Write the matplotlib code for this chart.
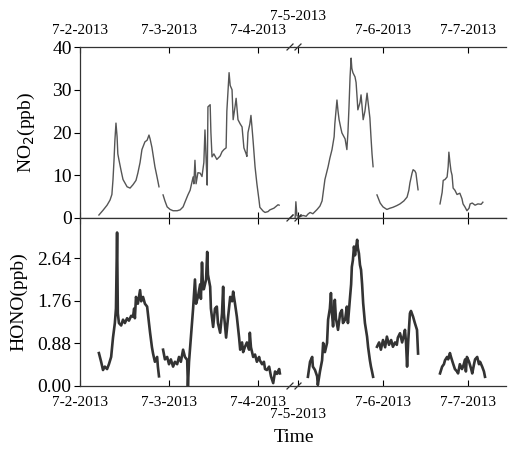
import numpy as np
import matplotlib
matplotlib.use('Agg')
import matplotlib.pyplot as plt

plt.rcParams['font.family'] = ['Liberation Serif', 'DejaVu Serif']

nan = np.nan

# hours since 7-2-2013 00:00, first block (7-2 to 7-4 morning)
no2_t1 = [5.1, 6.2, 7.3, 8.1, 8.6, 8.9, 9.2, 9.4, 9.7, 10.0, 10.2, 10.5, 11.1, 11.6, 12.7, 13.5,
          14.3, 15.1, 15.6, 16.2, 16.7, 17.5, 18.1, 18.6, 18.9, 19.4, 20.2, 20.8, 21.3, 21.8,
          22.4, 22.9, 23.5, 24.3, 25.1, 26.2, 27.0, 27.8, 28.3, 29.1, 29.7, 30.5, 30.7, 31.0,
          31.3, 31.8, 32.4, 32.9, 33.4, 33.7, 34.0, 34.3, 34.5, 35.1, 35.3, 35.6, 36.1, 36.9,
          37.8, 38.3, 38.8, 39.4, 39.6, 40.2, 40.5, 41.0, 41.3, 41.8, 42.1, 42.6, 43.2, 43.7,
          44.2, 44.8, 45.0, 45.3, 45.8, 46.1, 46.4, 46.7, 47.2, 47.7, 48.3, 48.5, 49.4, 49.9,
          50.7, 51.2, 52.3, 53.4, 53.7]
no2_v1 = [0.7, 1.8, 3.0, 4.2, 5.5, 9.0, 14.0, 18.0, 22.2, 19.0, 15.0, 13.6, 11.0, 9.0, 7.3, 7.0,
          7.8, 8.8, 10.5, 13.0, 16.0, 17.8, 18.2, 19.4, 18.5, 16.5, 12.0, 9.5, 7.3, nan,
          5.4, 4.0, 2.6, 2.0, 1.7, 1.7, 1.9, 2.6, 3.7, 5.4, 6.5, 9.6, 8.0, 13.5,
          8.0, 10.6, 10.5, 9.7, 13.0, 20.6, 14.0, 7.7, 26.0, 26.5, 20.0, 14.3, 15.0, 13.7,
          14.5, 15.5, 16.0, 16.4, 25.0, 34.0, 31.0, 30.0, 23.0, 26.0, 28.0, 23.0, 22.0, 21.3,
          16.4, 15.0, 14.4, 20.0, 22.0, 24.0, 21.0, 17.8, 12.0, 8.0, 4.0, 2.5, 1.6, 1.3,
          1.5, 1.9, 2.3, 3.1, 3.0]

# second block (7-5 to 7-7)
no2_t2 = [71.2, 71.4, 71.7, 72.6, 73.4, 74.3, 74.8, 75.4, 76.2, 77.4, 78.2, 78.8, 79.6, 80.5,
          81.0, 81.6, 82.2, 82.4, 83.0, 83.3, 83.6, 84.1, 84.4, 85.3, 85.8, 86.1, 86.4, 86.7,
          87.0, 87.2, 87.5, 88.1, 88.4, 88.7, 88.9, 89.5, 89.8, 90.1, 90.4, 90.9, 91.5, 91.8,
          92.3, 92.6, 92.9, 93.2, 94.0, 94.3, 95.2, 96.0, 97.1, 98.0, 98.8, 99.9, 100.8, 101.9,
          102.8, 103.3, 103.6, 104.2, 104.5, 105.0, 105.3, 105.6, 105.9, 108.0, 112.1, 112.7,
          113.0, 113.5, 114.1, 114.4, 114.6, 114.9, 115.2, 115.5, 115.8, 116.3, 116.9, 117.7,
          118.3, 118.6, 119.2, 119.7, 120.3, 120.6, 121.2, 122.0, 122.8, 123.7, 124.2]
no2_v2 = [0.2, 3.8, 0.5, 0.3, 0.6, 0.4, 0.9, 1.3, 1.0, 2.0, 2.8, 4.0, 9.0, 12.0,
          14.0, 16.0, 19.0, 22.0, 27.6, 25.0, 23.0, 21.0, 19.9, 18.5, 16.0, 20.0, 26.0, 33.0,
          37.4, 35.0, 34.0, 33.0, 31.7, 28.0, 25.3, 27.0, 28.8, 26.0, 23.0, 25.0, 29.2, 27.0,
          23.4, 19.0, 15.0, 12.0, nan, 5.4, 3.5, 2.6, 2.0, 2.3, 2.5, 2.9, 3.3, 4.0,
          4.9, 6.5, 8.2, 10.5, 11.3, 11.0, 10.5, 8.5, 6.6, nan, 3.3, 6.0,
          8.8, 9.0, 9.6, 12.0, 15.4, 13.0, 11.0, 10.0, 7.0, 6.5, 5.5, 5.8,
          4.5, 3.3, 2.5, 1.7, 2.3, 3.3, 3.5, 3.0, 3.3, 3.2, 3.7]

hono_t1 = [5.1, 5.7, 6.2, 6.7, 7.3, 7.8, 8.4, 8.9, 9.4, 9.7, 10.0, 10.2, 10.5, 11.1, 11.6, 12.1,
           12.7, 13.2, 13.8, 14.3, 14.6, 14.8, 15.1, 15.6, 16.2, 16.5, 17.0, 17.5, 18.1, 18.6,
           18.9, 19.4, 19.7, 20.2, 20.8, 21.0, 21.3, 21.8, 22.4, 22.9, 23.5, 24.0, 24.5, 25.1,
           25.6, 26.2, 26.7, 27.2, 27.8, 28.3, 28.9, 29.1, 29.4, 29.9, 30.5, 31.0, 31.3, 31.8,
           32.4, 32.6, 32.9, 33.2, 33.4, 34.0, 34.3, 34.5, 35.1, 35.3, 35.9, 36.4, 36.9, 37.2,
           37.8, 38.3, 38.6, 38.8, 39.4, 39.9, 40.5, 41.0, 41.3, 41.8, 42.3, 42.9, 43.2, 43.7,
           44.0, 44.5, 45.0, 45.6, 45.8, 46.1, 46.7, 47.2, 47.7, 48.3, 48.5, 49.1, 49.6, 49.9,
           50.4, 51.0, 51.5, 52.1, 52.6, 53.1, 53.7, 53.9]
hono_v1 = [0.68, 0.50, 0.33, 0.40, 0.35, 0.45, 0.60, 1.00, 1.30, 1.60, 3.17, 1.50, 1.30, 1.25, 1.37, 1.30,
           1.40, 1.35, 1.45, 1.43, 1.60, 1.40, 1.84, 1.70, 1.98, 1.75, 1.84, 1.70, 1.64, 1.30,
           1.10, 0.80, 0.67, 0.50, 0.60, 0.40, 0.20, nan, 0.75, 0.55, 0.60, 0.45, 0.55, 0.40,
           0.50, 0.45, 0.60, 0.50, 0.75, 0.60, 0.54, 0.00, 0.50, 1.00, 1.60, 2.20, 1.70, 1.84,
           2.10, 1.80, 2.55, 2.00, 2.00, 2.20, 2.77, 2.30, 2.05, 1.60, 1.22, 1.60, 1.64, 1.30,
           1.10, 1.50, 2.05, 1.50, 1.00, 1.40, 1.84, 1.75, 1.95, 1.70, 1.43, 1.00, 0.75, 0.90,
           0.70, 0.81, 0.90, 0.75, 1.10, 0.80, 0.60, 0.65, 0.50, 0.60, 0.53, 0.45, 0.50, 0.35,
           0.33, 0.40, 0.20, 0.06, 0.30, 0.25, 0.35, 0.26]

hono_t2 = [74.8, 75.4, 76.0, 76.2, 76.8, 77.4, 77.6, 78.2, 78.8, 79.1, 79.6, 80.2, 80.5, 81.0,
           81.3, 81.6, 81.9, 82.4, 82.7, 83.3, 83.9, 84.4, 84.7, 85.3, 85.8, 86.1, 86.7, 87.0,
           87.2, 87.5, 87.8, 88.1, 88.7, 88.9, 89.2, 89.5, 89.8, 90.1, 90.4, 90.9, 91.5, 91.8,
           92.3, 92.6, 92.9, 93.2, 94.0, 94.3, 94.9, 95.4, 96.0, 96.6, 97.1, 97.7, 98.3, 98.8,
           99.4, 99.9, 100.2, 100.8, 101.4, 101.9, 102.2, 102.5, 102.8, 103.1, 103.6, 103.9,
           104.5, 105.0, 105.6, 105.9, 108.0, 112.1, 112.7, 113.2, 113.5, 114.1, 114.4, 114.9,
           115.2, 115.8, 116.3, 116.9, 117.2, 117.7, 118.3, 118.6, 119.2, 119.4, 119.7, 120.3,
           120.9, 121.2, 121.7, 122.0, 122.6, 123.1, 123.4, 124.0, 124.5, 124.8]
hono_v2 = [0.19, 0.50, 0.60, 0.40, 0.33, 0.20, 0.02, 0.30, 0.53, 0.89, 0.70, 0.89, 1.37, 1.60,
           1.92, 1.50, 1.23, 1.78, 1.40, 1.16, 1.50, 1.57, 1.30, 1.37, 1.64, 1.30, 1.84, 2.10,
           2.46, 2.60, 2.88, 2.70, 3.02, 2.85, 2.74, 2.50, 2.40, 2.10, 1.71, 1.30, 1.02, 0.80,
           0.53, 0.40, 0.30, 0.19, nan, 0.81, 0.90, 0.75, 0.95, 0.80, 1.02, 0.85, 0.95, 0.81,
           0.90, 0.85, 1.00, 1.09, 0.90, 1.05, 1.16, 0.90, 0.40, 0.90, 1.50, 1.55,
           1.43, 1.30, 1.16, 0.67, nan, 0.26, 0.40, 0.45, 0.53, 0.60, 0.55, 0.68,
           0.60, 0.46, 0.35, 0.30, 0.26, 0.45, 0.35, 0.40, 0.55, 0.30, 0.60, 0.50,
           0.35, 0.26, 0.45, 0.55, 0.60, 0.45, 0.50, 0.40, 0.30, 0.19]

ticks1 = [0, 24, 48]
labels1 = ['7-2-2013', '7-3-2013', '7-4-2013']
ticks2 = [72, 96, 120]
labels2 = ['7-5-2013', '7-6-2013', '7-7-2013']
no2_ticks = [0, 10, 20, 30, 40]
hono_ticks = [0.00, 0.88, 1.76, 2.64]

W, H = 508, 450
fig = plt.figure(figsize=(W / 100, H / 100), dpi=100)

def px_axes(x0, x1, ytop, ybot):
    return fig.add_axes([x0 / W, 1 - ybot / H, (x1 - x0) / W, (ybot - ytop) / H])

xb = 294
ax_tl = px_axes(80, xb, 47, 218)
ax_tr = px_axes(xb, 506, 47, 218)
ax_bl = px_axes(80, xb, 218, 386)
ax_br = px_axes(xb, 506, 218, 386)

ax_tl.plot(no2_t1, no2_v1, color='#555555', lw=1.0)
ax_tr.plot(no2_t2, no2_v2, color='#555555', lw=1.0)
ax_bl.plot(hono_t1, hono_v1, color='#333333', lw=1.9)
ax_br.plot(hono_t2, hono_v2, color='#333333', lw=1.9)

for ax in (ax_tl, ax_bl):
    ax.set_xlim(0, (xb - 80) * 24 / 89)
    ax.set_xticks(ticks1)
for ax in (ax_tr, ax_br):
    ax.set_xlim(72 + (xb - 298) * 24 / 85, 72 + (506 - 298) * 24 / 85)
    ax.set_xticks(ticks2)

ax_tl.set_ylim(0, 40)
ax_tr.set_ylim(0, 40)
ax_bl.set_ylim(0, 3.47)
ax_br.set_ylim(0, 3.47)
ax_tl.set_yticks(no2_ticks)
ax_bl.set_yticks(hono_ticks)
ax_bl.set_yticklabels(['%.2f' % v for v in hono_ticks])

for ax in (ax_tl, ax_tr, ax_bl, ax_br):
    ax.tick_params(axis='x', direction='in', top=True, bottom=True, length=4,
                   labelsize=11, width=0.8)
    ax.tick_params(axis='y', direction='out', length=4, labelsize=14, width=0.8, pad=2)
    for s in ax.spines.values():
        s.set_linewidth(0.9)
        s.set_color('#333333')
for ax in (ax_tl, ax_tr):
    ax.tick_params(axis='x', labelbottom=False, labeltop=True, pad=7)
for ax in (ax_bl, ax_br):
    ax.tick_params(axis='x', labelbottom=True, labeltop=False, pad=7)

ax_tl.set_xticklabels(labels1)
ax_bl.set_xticklabels(labels1)
ax_tr.set_xticklabels(labels2)
ax_br.set_xticklabels(labels2)

# 7-5 label sits at the break: push it away from the axis
ax_tr.xaxis.get_major_ticks()[0].set_pad(17)
ax_br.xaxis.get_major_ticks()[0].set_pad(16)

for ax in (ax_tl, ax_bl):
    ax.spines['right'].set_visible(False)
for ax in (ax_tr, ax_br):
    ax.spines['left'].set_visible(False)
    ax.spines['right'].set_visible(False)
    ax.tick_params(axis='y', left=False, labelleft=False)

# break marks
for ax, side, wpx, hpx in ((ax_tl, 1, xb - 80, 171), (ax_bl, 1, xb - 80, 168),
                           (ax_tr, 0, 506 - xb, 171), (ax_br, 0, 506 - xb, 168)):
    dx, dy = 3.0 / wpx, 3.0 / hpx
    xc = side + (-4.0 / wpx if side == 1 else 4.0 / wpx)
    for yc in (0, 1):
        ax.plot([xc - dx, xc + dx], [yc - dy, yc + dy], transform=ax.transAxes,
                color='#333333', lw=0.9, clip_on=False)

ax_tl.set_ylabel('NO$_2$(ppb)', fontsize=14)
ax_bl.set_ylabel('HONO(ppb)', fontsize=14)
ax_tl.yaxis.set_label_coords(-0.20, 0.5)
ax_bl.yaxis.set_label_coords(-0.245, 0.5)
fig.text(294 / W, 1 - 438 / H, 'Time', ha='center', va='center', fontsize=14)

fig.savefig('out.png', dpi=100)
